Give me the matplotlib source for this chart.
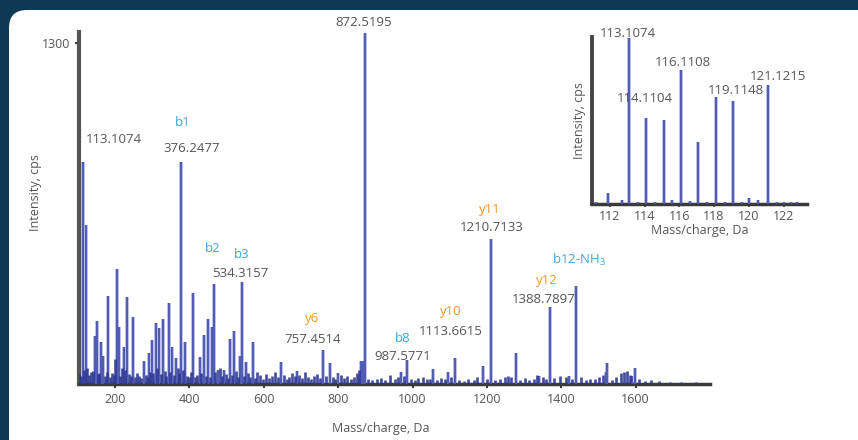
import matplotlib
matplotlib.use("Agg")
import matplotlib.pyplot as plt
from matplotlib.patches import FancyBboxPatch

plt.rcParams['font.family'] = ['Open Sans', 'DejaVu Sans']
plt.rcParams['mathtext.fontset'] = 'custom'
plt.rcParams['mathtext.rm'] = 'Open Sans'

# main spectrum - major peaks (m/z, cps)
peak_mz = [113.1, 121, 146, 151, 162, 167, 181, 205, 210, 224, 232, 248, 278, 291, 299,
           310, 318, 329, 345, 353, 363, 376.2, 388, 409, 428, 439, 449, 460, 465, 476,
           492, 508, 519, 535, 541, 552, 570, 645, 688, 758, 777, 800, 862, 866, 872.5,
           970, 986, 1056, 1096, 1113.7, 1190, 1210.7, 1279, 1341, 1369, 1421, 1440,
           1520, 1523, 1590, 1598]
peak_int = [844, 604, 182, 240, 160, 106, 334, 437, 217, 141, 331, 255, 87, 118, 167,
            232, 213, 247, 308, 141, 99, 844, 160, 346, 103, 186, 247, 217, 380, 53,
            53, 171, 201, 106, 388, 84, 160, 84, 49, 129, 80, 42, 87, 87, 1338,
            46, 91, 57, 46, 99, 68, 551, 118, 30, 293, 30, 372,
            46, 80, 30, 61]

# low level background peaks
noise_mz = [104, 108, 117, 125, 131, 136, 141, 155, 158, 173,
            177, 186, 192, 197, 201, 214, 218, 228, 237, 243,
            253, 258, 264, 270, 284, 288, 295, 303, 314, 323,
            334, 338, 349, 358, 368, 372, 383, 394, 400, 404,
            415, 420, 432, 444, 454, 470, 482, 487, 497, 503,
            514, 526, 530, 546, 558, 564, 576, 583, 590, 598,
            606, 614, 622, 630, 638, 655, 662, 668, 676, 684,
            694, 702, 710, 718, 726, 735, 743, 750, 766, 786,
            792, 808, 816, 824, 834, 842, 850, 856, 880, 892,
            904, 914, 926, 940, 952, 962, 978, 996, 1006, 1016,
            1028, 1040, 1048, 1066, 1076, 1086, 1104, 1124, 1138, 1150,
            1164, 1174, 1200, 1222, 1236, 1248, 1258, 1266, 1290, 1302,
            1312, 1326, 1336, 1352, 1360, 1380, 1396, 1412, 1430, 1452,
            1466, 1478, 1490, 1502, 1512, 1536, 1548, 1560, 1570, 1578,
            1584, 1610, 1626, 1642, 1662, 1692, 1722, 1762]
noise_int = [40, 30, 55, 60, 35, 45, 50, 38, 42, 30,
             45, 28, 40, 35, 95, 32, 60, 55, 38, 30,
             25, 42, 30, 22, 35, 28, 45, 40, 60, 38,
             50, 30, 45, 35, 60, 40, 55, 30, 25, 45,
             28, 35, 40, 30, 25, 45, 60, 30, 38, 22,
             35, 50, 25, 30, 40, 28, 22, 45, 35, 20,
             38, 22, 30, 45, 25, 35, 20, 28, 40, 30,
             35, 22, 45, 25, 18, 30, 38, 22, 30, 28,
             20, 35, 22, 30, 18, 25, 40, 55, 20, 15,
             18, 22, 15, 35, 18, 25, 30, 20, 15, 22,
             25, 18, 20, 15, 22, 18, 25, 15, 12, 18,
             15, 28, 20, 15, 18, 25, 30, 28, 15, 22,
             15, 20, 35, 25, 18, 22, 30, 25, 18, 28,
             15, 20, 18, 25, 35, 15, 28, 40, 45, 50,
             35, 18, 12, 15, 10, 8, 8, 6]

# labels: (text, x, y, colour key)
main_labels = [("872.5195", 868, 1376, "g"), ("113.1074", 197, 931, "g"),
               ("b1", 382, 996, "b"), ("376.2477", 406, 897, "g"),
               ("b2", 463, 517, "b"), ("b3", 541, 494, "b"), ("534.3157", 538, 422, "g"),
               ("y6", 731, 251, "o"), ("757.4514", 731, 171, "g"),
               ("b8", 973, 175, "b"), ("987.5771", 973, 106, "g"),
               ("y10", 1102, 277, "o"), ("1113.6615", 1102, 198, "g"),
               ("y11", 1209, 665, "o"), ("1210.7133", 1212, 597, "g"),
               ("b12-NH$_\\mathregular{3}$", 1448, 471, "b"),
               ("y12", 1360, 395, "o"), ("1388.7897", 1354, 323, "g")]

# inset: zoom on reporter region
inset_mz = [111.2, 111.9, 112.7, 113.1, 113.6, 114.1, 114.6, 115.1, 115.6, 116.1, 116.6,
            117.1, 117.6, 118.1, 118.6, 119.1, 119.6, 120.0, 120.5, 121.1, 121.6,
            122.0, 122.4, 122.8]
inset_int = [10, 56, 20, 845, 12, 440, 12, 430, 20, 683, 15,
             314, 10, 546, 12, 526, 10, 30, 20, 607, 12,
             8, 8, 8]
inset_labels = [("113.1074", 113.04, 870), ("116.1108", 116.2, 718),
                ("114.1104", 114.02, 536), ("119.1148", 119.25, 577),
                ("121.1215", 121.66, 648)]

colors = {"g": "#555555", "b": "#3ea6dc", "o": "#f39323"}
peak_col = "#4f5ab3"
peak_glow = "#aeb3e2"
noise_col = "#2c3892"
axis_col = "#3a3a3a"
text_col = "#555555"

fig = plt.figure(figsize=(8.58, 4.40), dpi=100, facecolor="#0d3a52")
card = FancyBboxPatch((9, -30), 900, 460, boxstyle="round,pad=0,rounding_size=18",
                      transform=None, facecolor="white", edgecolor="none", zorder=-10)
fig.add_artist(card)

ax = fig.add_axes([79 / 858, 1 - 384 / 440, 631 / 858, 352 / 440])
ax.set_facecolor("none")
ax.vlines(peak_mz, 0, peak_int, color=peak_glow, lw=2.9, alpha=0.8, zorder=2)
ax.vlines(peak_mz, 0, peak_int, color=peak_col, lw=1.4, zorder=3)
ax.vlines(noise_mz, 0, noise_int, color=noise_col, lw=1.9, alpha=0.9, zorder=3)
ax.set_xlim(103, 1800)
ax.set_ylim(0, 1340)
ax.set_xticks([200, 400, 600, 800, 1000, 1200, 1400, 1600])
ax.set_yticks([1300])
for s in ["top", "right"]:
    ax.spines[s].set_visible(False)
ax.spines["left"].set_color("#555555")
ax.spines["left"].set_linewidth(3)
ax.spines["bottom"].set_color(axis_col)
ax.spines["bottom"].set_linewidth(2.5)
ax.tick_params(axis="both", colors=axis_col, labelcolor=text_col, labelsize=9,
               length=3, width=1.5)
for txt, x, y, c in main_labels:
    ax.text(x, y, txt, color=colors[c], fontsize=9.5, ha="center", va="center",
            clip_on=False)

fig.text(35 / 858, 1 - 193 / 440, "Intensity, cps", rotation=90, ha="center",
         va="center", fontsize=9, color=text_col)
fig.text(381 / 858, 1 - 428 / 440, "Mass/charge, Da", ha="center", va="center",
         fontsize=9, color=text_col)

axi = fig.add_axes([592 / 858, 1 - 204 / 440, 215 / 858, 167 / 440])
axi.set_facecolor("none")
axi.vlines(inset_mz, 0, inset_int, color=peak_glow, lw=2.9, alpha=0.8, zorder=2)
axi.vlines(inset_mz, 0, inset_int, color=peak_col, lw=1.4, zorder=3)
axi.set_xlim(110.97, 123.35)
axi.set_ylim(0, 850)
axi.set_xticks([112, 114, 116, 118, 120, 122])
axi.set_yticks([])
for s in ["top", "right"]:
    axi.spines[s].set_visible(False)
axi.spines["left"].set_color("#444444")
axi.spines["left"].set_linewidth(2.8)
axi.spines["bottom"].set_color(axis_col)
axi.spines["bottom"].set_linewidth(2.5)
axi.tick_params(axis="x", colors=axis_col, labelcolor=text_col, labelsize=9,
                length=2, width=1.2, pad=2)
axi.set_xlabel("Mass/charge, Da", fontsize=9, color=text_col, labelpad=1)
axi.set_ylabel("Intensity, cps", fontsize=9, color=text_col, labelpad=4)
for txt, x, y in inset_labels:
    axi.text(x, y, txt, color=colors["g"], fontsize=9.5, ha="center", va="center",
             clip_on=False)

fig.savefig("out.png", dpi=100, facecolor=fig.get_facecolor())
